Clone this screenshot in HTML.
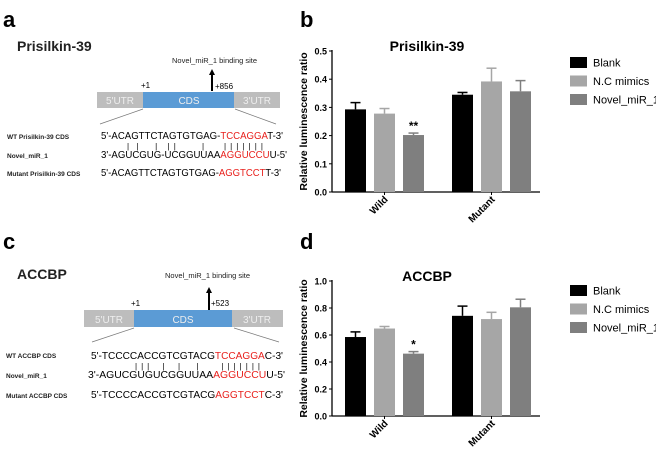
<!DOCTYPE html>
<html><head><meta charset="utf-8"><style>
body{margin:0;background:#fff;}
svg{display:block;font-family:"Liberation Sans",sans-serif;}
</style></head><body>
<svg id="fig" width="656" height="453" viewBox="0 0 656 453">
<!-- panel a -->
<text x="3" y="27" font-size="22" font-weight="bold">a</text>
<text x="17" y="51" font-size="14" font-weight="bold" fill="#222">Prisilkin-39</text>
<text x="172" y="63" font-size="7.5" fill="#222">Novel_miR_1 binding site</text>
<line x1="212" y1="91" x2="212" y2="73" stroke="#000" stroke-width="2"/>
<polygon points="209,75 215,75 212,69" fill="#000"/>
<text x="141" y="88" font-size="8">+1</text>
<text x="215" y="89" font-size="8">+856</text>
<rect x="97" y="92" width="46" height="16" fill="#bdbdbd"/>
<rect x="143" y="92" width="91" height="16" fill="#5b9bd5"/>
<rect x="234" y="92" width="46" height="16" fill="#bdbdbd"/>
<text x="120" y="104" font-size="10" fill="#eee" text-anchor="middle">5'UTR</text>
<text x="189" y="104" font-size="10" fill="#eee" text-anchor="middle">CDS</text>
<text x="257" y="104" font-size="10" fill="#eee" text-anchor="middle">3'UTR</text>
<line x1="143" y1="109" x2="100" y2="124" stroke="#777" stroke-width="0.7"/>
<line x1="235" y1="109" x2="276" y2="124" stroke="#777" stroke-width="0.7"/>
<text x="7" y="139" font-size="6.5" font-weight="bold" fill="#222">WT Prisilkin-39 CDS</text>
<text x="7" y="158" font-size="6.5" font-weight="bold" fill="#222">Novel_miR_1</text>
<text x="7" y="176" font-size="6.5" font-weight="bold" fill="#222">Mutant Prisilkin-39 CDS</text>
<text x="101" y="139" font-size="10.5" textLength="182" lengthAdjust="spacingAndGlyphs">5'-ACAGTTCTAGTGTGAG-<tspan fill="#e8201c">TCCAGGA</tspan>T-3'</text>
<text x="127" y="149" font-size="8" xml:space="preserve" textLength="136" lengthAdjust="spacing">|  |     |   | |        |      | | | | | | |</text>
<text x="101" y="158" font-size="10.5" textLength="186" lengthAdjust="spacingAndGlyphs">3'-AGUCGUG-UCGGUUAA<tspan fill="#e8201c">AGGUCCU</tspan>U-5'</text>
<text x="101" y="176" font-size="10.5" textLength="180" lengthAdjust="spacingAndGlyphs">5'-ACAGTTCTAGTGTGAG-<tspan fill="#e8201c">AGGTCCT</tspan>T-3'</text>
<!-- panel c -->
<text x="3" y="249" font-size="22" font-weight="bold">c</text>
<text x="17" y="279" font-size="14" font-weight="bold" fill="#222">ACCBP</text>
<text x="165" y="278" font-size="7.5" fill="#222">Novel_miR_1 binding site</text>
<line x1="209" y1="310" x2="209" y2="291" stroke="#000" stroke-width="2"/>
<polygon points="206,293 212,293 209,287" fill="#000"/>
<text x="131" y="306" font-size="8">+1</text>
<text x="211" y="306" font-size="8">+523</text>
<rect x="84" y="310" width="50" height="17" fill="#bdbdbd"/>
<rect x="134" y="310" width="98" height="17" fill="#5b9bd5"/>
<rect x="232" y="310" width="51" height="17" fill="#bdbdbd"/>
<text x="109" y="323" font-size="10" fill="#eee" text-anchor="middle">5'UTR</text>
<text x="183" y="323" font-size="10" fill="#eee" text-anchor="middle">CDS</text>
<text x="257" y="323" font-size="10" fill="#eee" text-anchor="middle">3'UTR</text>
<line x1="134" y1="328" x2="92" y2="342" stroke="#777" stroke-width="0.7"/>
<line x1="234" y1="328" x2="279" y2="342" stroke="#777" stroke-width="0.7"/>
<text x="6" y="358" font-size="6.5" font-weight="bold" fill="#222">WT ACCBP CDS</text>
<text x="6" y="378" font-size="6.5" font-weight="bold" fill="#222">Novel_miR_1</text>
<text x="6" y="398" font-size="6.5" font-weight="bold" fill="#222">Mutant ACCBP CDS</text>
<text x="91" y="359" font-size="10.5" textLength="192" lengthAdjust="spacingAndGlyphs">5'-TCCCCACCGTCGTACG<tspan fill="#e8201c">TCCAGGA</tspan>C-3'</text>
<text x="135" y="369" font-size="8" xml:space="preserve" textLength="125" lengthAdjust="spacing">| | |    |    |     |       | | | | | | |</text>
<text x="88" y="378" font-size="10.5" textLength="197" lengthAdjust="spacingAndGlyphs">3'-AGUCGUGUCGGUUAA<tspan fill="#e8201c">AGGUCCU</tspan>U-5'</text>
<text x="91" y="398" font-size="10.5" textLength="192" lengthAdjust="spacingAndGlyphs">5'-TCCCCACCGTCGTACG<tspan fill="#e8201c">AGGTCCT</tspan>C-3'</text>
<text x="300" y="27" font-size="22" font-weight="bold">b</text>
<text x="300" y="249" font-size="22" font-weight="bold">d</text>
<g id="charts"></g>
</svg>
<script>
const groups = ["Wild","Mutant"];
const seriesNames = ["Blank","N.C mimics","Novel_miR_1"];
const colors = ["#000000","#a6a6a6","#7f7f7f"];
const bMeans = [[0.293,0.345],[0.278,0.392],[0.202,0.357]];
const bErrs = [[0.024,0.008],[0.018,0.047],[0.007,0.038]];
const bTicks = ["0.0","0.1","0.2","0.3","0.4","0.5"];
const bStars = ["","","**"];
const dMeans = [[0.585,0.742],[0.648,0.718],[0.462,0.805]];
const dErrs = [[0.038,0.072],[0.015,0.05],[0.015,0.06]];
const dTicks = ["0.0","0.2","0.4","0.6","0.8","1.0"];
const dStars = ["","","*"];

const NS="http://www.w3.org/2000/svg";
const root=document.getElementById('charts');
function mk(tag,attrs,parent){const e=document.createElementNS(NS,tag);for(const k in attrs)e.setAttribute(k,attrs[k]);(parent||root).appendChild(e);return e;}

function chart(opt){
  const g=mk('g',{});
  
  
  const x0=332,x1=540,y0=opt.y0,yTop=opt.yTop,max=opt.max;
  const Y=v=>y0-(v/max)*(y0-yTop);
  const groupStart=[345,452],bw=21,step=29;
  const X=(gi,si)=>groupStart[gi]+si*step;
  mk('line',{x1:x0,y1:yTop-1,x2:x0,y2:y0,stroke:'#000','stroke-width':1.3},g);
  mk('line',{x1:x0,y1:y0,x2:x1,y2:y0,stroke:'#000','stroke-width':1.3},g);
  opt.ticks.forEach((t,i)=>{
    const v=max*i/(opt.ticks.length-1);
    mk('line',{x1:x0-3,y1:Y(v),x2:x0,y2:Y(v),stroke:'#000','stroke-width':1},g);
    const tx=mk('text',{x:x0-5,y:Y(v)+3.5,'font-size':9,'font-weight':'bold','text-anchor':'end'},g);
    tx.textContent=t;
  });
  const yt=mk('text',{x:0,y:0,'font-size':10.5,'font-weight':'bold','text-anchor':'middle',transform:`translate(${x0-25},${(y0+yTop)/2}) rotate(-90)`},g);
  
  
  yt.textContent='Relative luminescence ratio';
  const tt=mk('text',{x:427,y:yTop+0,'font-size':14,'font-weight':'bold','text-anchor':'middle'},g);
  
  
  tt.textContent=opt.title;
  groups.forEach((gn,gi)=>{
    const cx=X(gi,1)+bw/2;
    mk('line',{x1:cx,y1:y0,x2:cx,y2:y0+3,stroke:'#000'},g);
    const lt=mk('text',{x:0,y:0,'font-size':10,'font-weight':'bold','text-anchor':'end',transform:`translate(${cx+4},${y0+8}) rotate(-45)`},g);
    
    
    lt.textContent=gn;
    seriesNames.forEach((sn,si)=>{
      const m=opt.means[si][gi],e=opt.errs[si][gi],bx=X(gi,si);
      const r=mk('rect',{x:bx,y:Y(m),width:bw,height:y0-Y(m),fill:colors[si]},g);
      
      
      const c=bx+bw/2;
      mk('line',{x1:c,y1:Y(m),x2:c,y2:Y(m+e),stroke:colors[si],'stroke-width':1.5},g);
      mk('line',{x1:c-5,y1:Y(m+e),x2:c+5,y2:Y(m+e),stroke:colors[si],'stroke-width':1.5},g);
      if(gi===0&&opt.stars[si]){
        const st=mk('text',{x:c,y:Y(m+e)-3,'font-size':12,'font-weight':'bold','text-anchor':'middle'},g);
        
        
        st.textContent=opt.stars[si];
      }
    });
  });
  seriesNames.forEach((sn,si)=>{
    const ly=opt.legY+si*18.5;
    const lr=mk('rect',{x:570,y:ly-5,width:17,height:11,fill:colors[si]},g);
    
    
    const lt=mk('text',{x:593,y:ly+4.5,'font-size':11},g);
    
    
    lt.textContent=sn;
  });
}
chart({name:'chart-prisilkin',y0:192,yTop:51,max:0.5,ticks:bTicks,means:bMeans,errs:bErrs,stars:bStars,title:'Prisilkin-39',legY:62});
chart({name:'chart-accbp',y0:416,yTop:281,max:1.0,ticks:dTicks,means:dMeans,errs:dErrs,stars:dStars,title:'ACCBP',legY:290});
</script>
</body></html>
